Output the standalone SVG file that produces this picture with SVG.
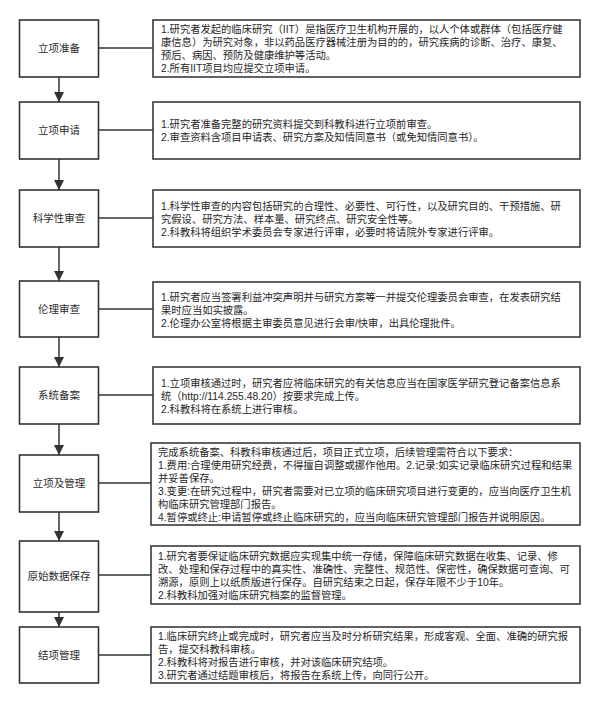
<svg xmlns="http://www.w3.org/2000/svg" width="600" height="702" viewBox="0 0 600 702">
<style>
.step{fill:#fff;stroke:#333;stroke-width:1.6}
.note{fill:#fff;stroke:#3a3a3a;stroke-width:1.6}
.lbl{font-family:"Liberation Sans","Noto Sans CJK SC",sans-serif;font-size:10.5px;fill:#2a2a2a;text-anchor:middle}
.txt{font-family:"Liberation Sans","Noto Sans CJK SC",sans-serif;font-size:10.3px;fill:#262626}
.ln{stroke:#333;stroke-width:1.5;fill:none}
</style>
<defs>
<marker id="ah" viewBox="0 0 10 10" refX="10" refY="5" markerWidth="10" markerHeight="10" markerUnits="userSpaceOnUse" orient="auto">
<path d="M0,0 L10,5 L0,10 z" fill="#333"/>
</marker>
</defs>
<rect width="600" height="702" fill="#fff"/>
<g id="connectors">
<line class="ln" x1="99" y1="48" x2="153" y2="48"/>
<line class="ln" x1="99" y1="130" x2="153" y2="130"/>
<line class="ln" x1="99" y1="218" x2="153" y2="218"/>
<line class="ln" x1="99" y1="309" x2="153" y2="309"/>
<line class="ln" x1="99" y1="395" x2="153" y2="395"/>
<line class="ln" x1="99" y1="483" x2="151" y2="483"/>
<line class="ln" x1="99" y1="575" x2="151" y2="575"/>
<line class="ln" x1="99" y1="655" x2="151" y2="655"/>
<line class="ln" x1="59" y1="77" x2="59" y2="102" marker-end="url(#ah)"/>
<line class="ln" x1="59" y1="159" x2="59" y2="190" marker-end="url(#ah)"/>
<line class="ln" x1="59" y1="247" x2="59" y2="281" marker-end="url(#ah)"/>
<line class="ln" x1="59" y1="337" x2="59" y2="367" marker-end="url(#ah)"/>
<line class="ln" x1="59" y1="424" x2="59" y2="455" marker-end="url(#ah)"/>
<line class="ln" x1="59" y1="512" x2="59" y2="541" marker-end="url(#ah)"/>
<line class="ln" x1="59" y1="612" x2="59" y2="627" marker-end="url(#ah)"/>
</g>
<g id="n1">
<rect class="step" x="19.5" y="20" width="79" height="57"/>
<text class="lbl" x="59" y="52">立项准备</text>
</g>
<g id="d1">
<rect class="note" x="153" y="20" width="427" height="57"/>
<text class="txt" x="161" y="33"><tspan x="161" y="33">1.研究者发起的临床研究（IIT）是指医疗卫生机构开展的，以人个体或群体（包括医疗健</tspan><tspan x="161" y="46">康信息）为研究对象，非以药品医疗器械注册为目的的，研究疾病的诊断、治疗、康复、</tspan><tspan x="161" y="59">预后、病因、预防及健康维护等活动。</tspan><tspan x="161" y="72">2.所有IIT项目均应提交立项申请。</tspan></text>
</g>
<g id="n2">
<rect class="step" x="19.5" y="102" width="79" height="57"/>
<text class="lbl" x="59" y="134">立项申请</text>
</g>
<g id="d2">
<rect class="note" x="153" y="102" width="427" height="57"/>
<text class="txt" x="161" y="128"><tspan x="161" y="128">1.研究者准备完整的研究资料提交到科教科进行立项前审查。</tspan><tspan x="161" y="141">2.审查资料含项目申请表、研究方案及知情同意书（或免知情同意书）。</tspan></text>
</g>
<g id="n3">
<rect class="step" x="19.5" y="190" width="79" height="57"/>
<text class="lbl" x="59" y="222">科学性审查</text>
</g>
<g id="d3">
<rect class="note" x="153" y="190" width="427" height="57"/>
<text class="txt" x="161" y="209.5"><tspan x="161" y="209.5">1.科学性审查的内容包括研究的合理性、必要性、可行性，以及研究目的、干预措施、研</tspan><tspan x="161" y="222.5">究假设、研究方法、样本量、研究终点、研究安全性等。</tspan><tspan x="161" y="235.5">2.科教科将组织学术委员会专家进行评审，必要时将请院外专家进行评审。</tspan></text>
</g>
<g id="n4">
<rect class="step" x="19.5" y="281" width="79" height="56"/>
<text class="lbl" x="59" y="313">伦理审查</text>
</g>
<g id="d4">
<rect class="note" x="153" y="282" width="427" height="55"/>
<text class="txt" x="161" y="300.5"><tspan x="161" y="300.5">1.研究者应当签署利益冲突声明并与研究方案等一并提交伦理委员会审查，在发表研究结</tspan><tspan x="161" y="313.5">果时应当如实披露。</tspan><tspan x="161" y="326.5">2.伦理办公室将根据主审委员意见进行会审/快审，出具伦理批件。</tspan></text>
</g>
<g id="n5">
<rect class="step" x="19.5" y="367" width="79" height="57"/>
<text class="lbl" x="59" y="399">系统备案</text>
</g>
<g id="d5">
<rect class="note" x="153" y="367" width="427" height="57"/>
<text class="txt" x="161" y="386.5"><tspan x="161" y="386.5">1.立项审核通过时，研究者应将临床研究的有关信息应当在国家医学研究登记备案信息系</tspan><tspan x="161" y="399.5">统（http://114.255.48.20）按要求完成上传。</tspan><tspan x="161" y="412.5">2.科教科将在系统上进行审核。</tspan></text>
</g>
<g id="n6">
<rect class="step" x="19.5" y="455" width="79" height="57"/>
<text class="lbl" x="59" y="487">立项及管理</text>
</g>
<g id="d6">
<rect class="note" x="151" y="443" width="429" height="82"/>
<text class="txt" x="158" y="455.5"><tspan x="158" y="455.5">完成系统备案、科教科审核通过后，项目正式立项，后续管理需符合以下要求：</tspan><tspan x="158" y="468.5">1.费用:合理使用研究经费，不得擅自调整或挪作他用。2.记录:如实记录临床研究过程和结果</tspan><tspan x="158" y="481.5">并妥善保存。</tspan><tspan x="158" y="494.5">3.变更:在研究过程中，研究者需要对已立项的临床研究项目进行变更的，应当向医疗卫生机</tspan><tspan x="158" y="507.5">构临床研究管理部门报告。</tspan><tspan x="158" y="520.5">4.暂停或终止:申请暂停或终止临床研究的，应当向临床研究管理部门报告并说明原因。</tspan></text>
</g>
<g id="n7">
<rect class="step" x="19.5" y="541" width="79" height="71"/>
<text class="lbl" x="59" y="580">原始数据保存</text>
</g>
<g id="d7">
<rect class="note" x="151" y="546" width="429" height="58"/>
<text class="txt" x="158" y="559.5"><tspan x="158" y="559.5">1.研究者要保证临床研究数据应实现集中统一存储，保障临床研究数据在收集、记录、修</tspan><tspan x="158" y="572.5">改、处理和保存过程中的真实性、准确性、完整性、规范性、保密性，确保数据可查询、可</tspan><tspan x="158" y="585.5">溯源，原则上以纸质版进行保存。自研究结束之日起，保存年限不少于10年。</tspan><tspan x="158" y="598.5">2.科教科加强对临床研究档案的监督管理。</tspan></text>
</g>
<g id="n8">
<rect class="step" x="19.5" y="627" width="79" height="56"/>
<text class="lbl" x="59" y="659">结项管理</text>
</g>
<g id="d8">
<rect class="note" x="151" y="627" width="429" height="56"/>
<text class="txt" x="158" y="639.5"><tspan x="158" y="639.5">1.临床研究终止或完成时，研究者应当及时分析研究结果，形成客观、全面、准确的研究报</tspan><tspan x="158" y="652.5">告，提交科教科审核。</tspan><tspan x="158" y="665.5">2.科教科将对报告进行审核，并对该临床研究结项。</tspan><tspan x="158" y="678.5">3.研究者通过结题审核后，将报告在系统上传，向同行公开。</tspan></text>
</g>
</svg>
